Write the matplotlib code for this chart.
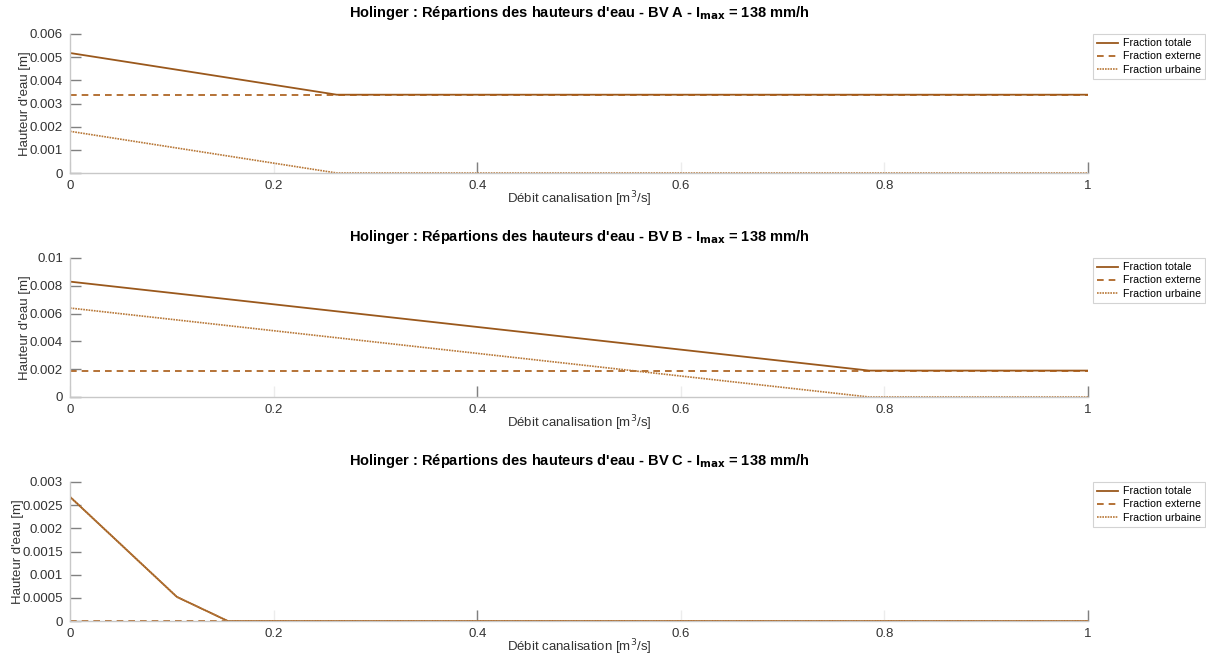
import numpy as np
import matplotlib.pyplot as plt

plt.rcParams['font.family'] = ['Liberation Sans', 'DejaVu Sans']

# Débit canalisation [m3/s] and hauteurs d'eau [m] per bassin versant
bv_names = ['A', 'B', 'C']

x_A = [0, 0.262, 1]
totale_A = [0.00518, 0.00338, 0.00338]
externe_A = [0.00338, 0.00338, 0.00338]
urbaine_A = [0.00180, 0.0, 0.0]

x_B = [0, 0.785, 1]
totale_B = [0.0083, 0.0019, 0.0019]
externe_B = [0.0019, 0.0019, 0.0019]
urbaine_B = [0.0064, 0.0, 0.0]

x_C = [0, 0.105, 0.155, 1]
totale_C = [0.00268, 0.00052, 0.0, 0.0]
externe_C = [0.0, 0.0, 0.0, 0.0]
urbaine_C = [0.00268, 0.00052, 0.0, 0.0]

ylims = [(0, 0.006), (0, 0.01), (0, 0.003)]
yticks = [np.arange(0, 0.0061, 0.001), np.arange(0, 0.0101, 0.002), np.arange(0, 0.00301, 0.0005)]
yticklabels = [
    ['0', '0.001', '0.002', '0.003', '0.004', '0.005', '0.006'],
    ['0', '0.002', '0.004', '0.006', '0.008', '0.01'],
    ['0', '0.0005', '0.001', '0.0015', '0.002', '0.0025', '0.003'],
]
xticks = [0, 0.2, 0.4, 0.6, 0.8, 1]
xticklabels = ['0', '0.2', '0.4', '0.6', '0.8', '1']
xticks_dark = [0.4, 1]   # only these tick marks show clearly in the original

data = [
    (x_A, totale_A, externe_A, urbaine_A),
    (x_B, totale_B, externe_B, urbaine_B),
    (x_C, totale_C, externe_C, urbaine_C),
]

c_tot = '#9a581c'
c_ext = '#a85a14'
c_urb = '#b87838'
grey = '#808080'
txt = '#333333'

fig = plt.figure(figsize=(12.06, 6.62), dpi=100)
W, H = 1206, 662
tops = [34, 258, 482]
for i, (name, (x, tot, ext, urb)) in enumerate(zip(bv_names, data)):
    ax = fig.add_axes([70 / W, 1 - (tops[i] + 139) / H, 1018 / W, 139 / H])
    ax.plot(x, tot, '-', color=c_tot, lw=1.3, label='Fraction totale')
    ax.plot(x, ext, '--', color=c_ext, lw=1.2, dashes=(4, 3), label='Fraction externe')
    ax.plot(x, urb, ':', color=c_urb, lw=1.2, dashes=(1, 0.6), label='Fraction urbaine')
    ax.set_xlim(0, 1)
    ax.set_ylim(*ylims[i])
    ax.set_xticks(xticks)
    ax.set_xticklabels(xticklabels)
    ax.xaxis.remove_overlapping_locs = False
    ax.set_xticks(xticks_dark, minor=True)
    ax.set_yticks(yticks[i])
    ax.set_yticklabels(yticklabels[i])
    for s in ['top', 'right']:
        ax.spines[s].set_visible(False)
    for s in ['left', 'bottom']:
        ax.spines[s].set_color('#c8c8c8')
        ax.spines[s].set_linewidth(1.0)
    ax.tick_params(direction='in', length=8, width=1, color=grey,
                   labelsize=9.5, labelcolor=txt)
    ax.tick_params(axis='x', which='major', pad=5, color='#ececec')
    ax.tick_params(axis='x', which='minor', direction='in', length=8, width=1, color=grey)
    ax.tick_params(axis='y', pad=5)
    ax.set_xlabel('Débit canalisation [m$^3$/s]', fontsize=9.5, color=txt, labelpad=-2)
    ax.set_ylabel("Hauteur d'eau [m]", fontsize=9.5, color=txt, labelpad=-1)
    ax.set_title("Holinger : Répartions des hauteurs d'eau - BV " + name + r" - I$_{\mathbf{max}}$ = 138 mm/h",
                 fontsize=10.5, fontweight='bold', pad=12)
    leg = ax.legend(loc='upper left', bbox_to_anchor=(1.005, 1.0), fontsize=7.7,
                    frameon=True, fancybox=False, borderpad=0.4, labelspacing=0.3,
                    handlelength=1.9, handletextpad=0.5, borderaxespad=0)
    leg.get_frame().set_edgecolor('#c8c8c8')
    leg.get_frame().set_linewidth(0.8)

fig.savefig('out.png', dpi=100)
